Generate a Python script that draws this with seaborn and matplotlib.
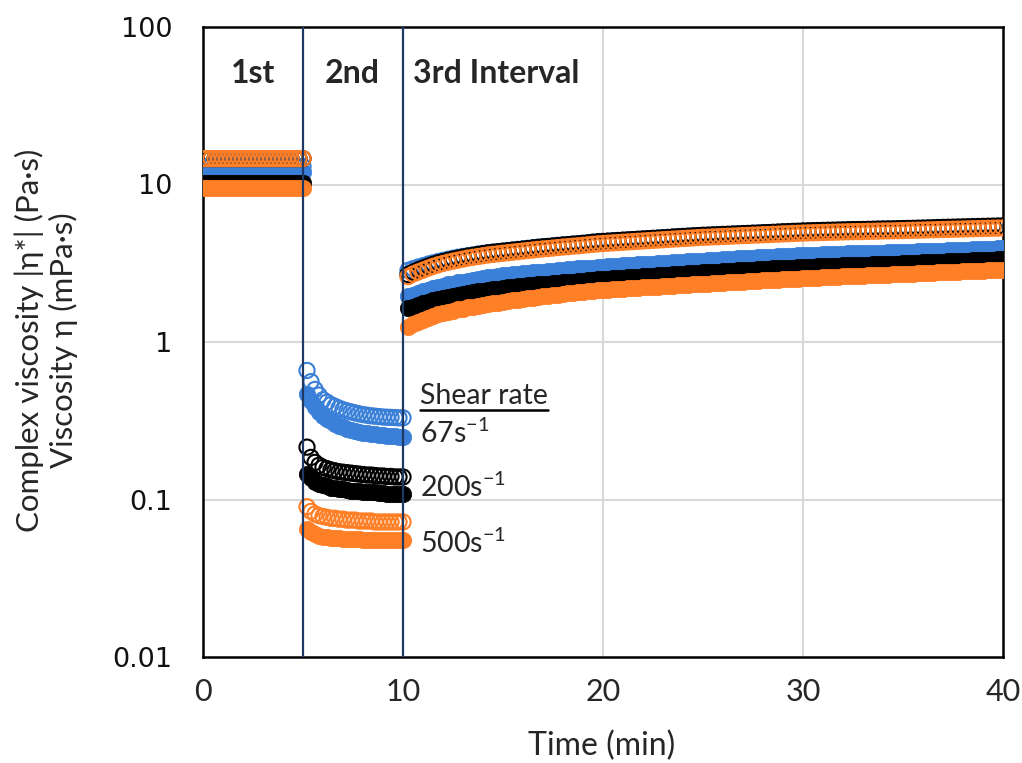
import numpy as np
import pandas as pd
import matplotlib
matplotlib.use("Agg")
import matplotlib.pyplot as plt
from matplotlib import font_manager
import seaborn as sns
from matplotlib.lines import Line2D

# ---------------- data ----------------
t1 = np.round(np.arange(0.0, 5.01, 0.2), 2)            # 1st interval (oscillation)
t2 = np.round(np.arange(5.2, 10.01, 0.2), 2)           # 2nd interval (rotation)
t3 = np.round(np.arange(10.25, 40.01, 0.25), 2)        # 3rd interval (oscillation)

shear_rates = ["67", "200", "500"]
series_colors = {"67": "#3a7fd8", "200": "#000000", "500": "#ff7f27"}

# 1st interval
blue_fill_1 = [12.0, 12.0, 12.0, 12.0, 12.0, 12.0, 12.0, 12.0, 12.0, 12.0, 12.0, 12.0, 12.0,
               12.0, 12.0, 12.0, 12.0, 12.0, 12.0, 12.0, 12.0, 12.0, 12.0, 12.0, 12.0, 12.0]
blue_open_1 = [13.0, 13.0, 13.0, 13.0, 13.0, 13.0, 13.0, 13.0, 13.0, 13.0, 13.0, 13.0, 13.0,
               13.0, 13.0, 13.0, 13.0, 13.0, 13.0, 13.0, 13.0, 13.0, 13.0, 13.0, 13.0, 13.0]
black_fill_1 = [10.2, 10.2, 10.2, 10.2, 10.2, 10.2, 10.2, 10.2, 10.2, 10.2, 10.2, 10.2, 10.2,
                10.2, 10.2, 10.2, 10.2, 10.2, 10.2, 10.2, 10.2, 10.2, 10.2, 10.2, 10.2, 10.2]
black_open_1 = [14.6, 14.6, 14.6, 14.6, 14.6, 14.6, 14.6, 14.6, 14.6, 14.6, 14.6, 14.6, 14.6,
                14.6, 14.6, 14.6, 14.6, 14.6, 14.6, 14.6, 14.6, 14.6, 14.6, 14.6, 14.6, 14.6]
orange_fill_1 = [9.5, 9.5, 9.5, 9.5, 9.5, 9.5, 9.5, 9.5, 9.5, 9.5, 9.5, 9.5, 9.5,
                 9.5, 9.5, 9.5, 9.5, 9.5, 9.5, 9.5, 9.5, 9.5, 9.5, 9.5, 9.5, 9.5]
orange_open_1 = [14.6, 14.6, 14.6, 14.6, 14.6, 14.6, 14.6, 14.6, 14.6, 14.6, 14.6, 14.6, 14.6,
                 14.6, 14.6, 14.6, 14.6, 14.6, 14.6, 14.6, 14.6, 14.6, 14.6, 14.6, 14.6, 14.6]

# 2nd interval
blue_open_2 = [0.66, 0.56, 0.50, 0.46, 0.43, 0.415, 0.40, 0.39, 0.38, 0.372, 0.365, 0.36, 0.355,
               0.35, 0.346, 0.343, 0.34, 0.338, 0.336, 0.334, 0.333, 0.332, 0.331, 0.330, 0.330]
blue_fill_2 = [0.47, 0.42, 0.385, 0.36, 0.34, 0.325, 0.313, 0.303, 0.295, 0.288, 0.282, 0.277, 0.273,
               0.269, 0.266, 0.263, 0.261, 0.259, 0.257, 0.255, 0.254, 0.253, 0.252, 0.251, 0.250]
black_open_2 = [0.215, 0.185, 0.172, 0.165, 0.160, 0.157, 0.154, 0.152, 0.150, 0.149, 0.148, 0.147, 0.146,
                0.145, 0.144, 0.143, 0.143, 0.142, 0.141, 0.141, 0.140, 0.140, 0.139, 0.139, 0.139]
black_fill_2 = [0.145, 0.136, 0.130, 0.126, 0.123, 0.121, 0.119, 0.118, 0.117, 0.116, 0.115, 0.114, 0.113,
                0.113, 0.112, 0.112, 0.111, 0.111, 0.110, 0.110, 0.109, 0.109, 0.109, 0.108, 0.108]
orange_open_2 = [0.090, 0.084, 0.081, 0.079, 0.078, 0.077, 0.076, 0.076, 0.075, 0.075, 0.074, 0.074, 0.074,
                 0.073, 0.073, 0.073, 0.073, 0.072, 0.072, 0.072, 0.072, 0.072, 0.072, 0.072, 0.072]
orange_fill_2 = [0.065, 0.062, 0.060, 0.059, 0.058, 0.058, 0.057, 0.057, 0.057, 0.056, 0.056, 0.056, 0.056,
                 0.056, 0.055, 0.055, 0.055, 0.055, 0.055, 0.055, 0.055, 0.055, 0.055, 0.055, 0.055]

# 3rd interval (one row per minute: x.25, x.5, x.75, x+1)
blue_fill_3 = [1.95, 2.00, 2.05, 2.10,  2.15, 2.20, 2.24, 2.28,  2.32, 2.35, 2.39, 2.42,
               2.45, 2.48, 2.51, 2.54,  2.57, 2.60, 2.63, 2.65,  2.67, 2.69, 2.71, 2.73,
               2.75, 2.77, 2.79, 2.80,  2.82, 2.84, 2.86, 2.87,  2.89, 2.91, 2.93, 2.94,
               2.96, 2.97, 2.99, 3.00,  3.02, 3.03, 3.05, 3.06,  3.08, 3.09, 3.11, 3.12,
               3.14, 3.15, 3.17, 3.18,  3.19, 3.20, 3.22, 3.23,  3.25, 3.26, 3.28, 3.29,
               3.31, 3.32, 3.34, 3.35,  3.36, 3.37, 3.39, 3.40,  3.42, 3.43, 3.45, 3.46,
               3.47, 3.48, 3.50, 3.51,  3.53, 3.54, 3.55, 3.56,  3.57, 3.58, 3.59, 3.60,
               3.61, 3.62, 3.63, 3.64,  3.65, 3.66, 3.665, 3.67, 3.68, 3.69, 3.695, 3.70,
               3.71, 3.72, 3.725, 3.73, 3.74, 3.75, 3.76, 3.77,  3.78, 3.79, 3.80, 3.81,
               3.82, 3.83, 3.84, 3.85,  3.86, 3.87, 3.88, 3.89,  3.90, 3.92, 3.93, 3.95]
black_fill_3 = [1.64, 1.68, 1.72, 1.76,  1.80, 1.84, 1.88, 1.91,  1.94, 1.97, 2.00, 2.03,
                2.06, 2.08, 2.10, 2.12,  2.14, 2.16, 2.18, 2.20,  2.22, 2.24, 2.26, 2.27,
                2.29, 2.30, 2.32, 2.33,  2.35, 2.36, 2.38, 2.39,  2.41, 2.42, 2.44, 2.45,
                2.47, 2.48, 2.50, 2.51,  2.53, 2.54, 2.55, 2.56,  2.58, 2.59, 2.60, 2.61,
                2.63, 2.64, 2.65, 2.66,  2.68, 2.69, 2.70, 2.71,  2.73, 2.74, 2.76, 2.77,
                2.78, 2.79, 2.80, 2.81,  2.83, 2.84, 2.85, 2.86,  2.87, 2.88, 2.90, 2.91,
                2.92, 2.93, 2.94, 2.95,  2.96, 2.97, 2.98, 2.99,  3.00, 3.01, 3.02, 3.03,
                3.04, 3.05, 3.055, 3.06, 3.07, 3.08, 3.09, 3.10,  3.105, 3.11, 3.12, 3.13,
                3.135, 3.14, 3.15, 3.16, 3.17, 3.18, 3.19, 3.20,  3.21, 3.22, 3.23, 3.24,
                3.25, 3.26, 3.27, 3.28,  3.29, 3.30, 3.31, 3.32,  3.33, 3.34, 3.35, 3.36]
orange_fill_3 = [1.25, 1.30, 1.34, 1.38,  1.42, 1.46, 1.50, 1.53,  1.56, 1.58, 1.61, 1.63,
                 1.66, 1.68, 1.70, 1.72,  1.74, 1.76, 1.78, 1.80,  1.82, 1.84, 1.86, 1.88,
                 1.90, 1.91, 1.93, 1.95,  1.97, 1.98, 2.00, 2.02,  2.04, 2.05, 2.07, 2.08,
                 2.10, 2.11, 2.13, 2.14,  2.15, 2.16, 2.17, 2.18,  2.19, 2.20, 2.21, 2.22,
                 2.23, 2.24, 2.25, 2.26,  2.27, 2.28, 2.29, 2.30,  2.31, 2.32, 2.33, 2.34,
                 2.35, 2.36, 2.37, 2.38,  2.39, 2.40, 2.41, 2.42,  2.43, 2.44, 2.45, 2.46,
                 2.47, 2.48, 2.49, 2.50,  2.51, 2.52, 2.53, 2.54,  2.55, 2.56, 2.565, 2.57,
                 2.58, 2.59, 2.60, 2.61,  2.615, 2.62, 2.63, 2.64, 2.65, 2.66, 2.665, 2.67,
                 2.68, 2.69, 2.695, 2.70, 2.71, 2.72, 2.73, 2.74,  2.75, 2.76, 2.765, 2.77,
                 2.78, 2.79, 2.80, 2.81,  2.815, 2.82, 2.83, 2.84, 2.845, 2.85, 2.86, 2.87]
orange_open_3 = [2.60, 2.70, 2.78, 2.86,  2.94, 3.02, 3.09, 3.15,  3.21, 3.26, 3.31, 3.36,
                 3.41, 3.45, 3.49, 3.53,  3.57, 3.60, 3.63, 3.66,  3.69, 3.72, 3.75, 3.78,
                 3.81, 3.84, 3.87, 3.90,  3.92, 3.95, 3.98, 4.01,  4.03, 4.06, 4.08, 4.11,
                 4.14, 4.17, 4.20, 4.22,  4.24, 4.26, 4.28, 4.30,  4.32, 4.34, 4.36, 4.38,
                 4.40, 4.42, 4.44, 4.46,  4.48, 4.50, 4.52, 4.54,  4.56, 4.58, 4.60, 4.62,
                 4.63, 4.65, 4.66, 4.68,  4.69, 4.71, 4.72, 4.74,  4.75, 4.77, 4.78, 4.80,
                 4.81, 4.83, 4.84, 4.86,  4.87, 4.89, 4.90, 4.92,  4.93, 4.94, 4.95, 4.96,
                 4.97, 4.98, 4.99, 5.00,  5.01, 5.02, 5.025, 5.03, 5.04, 5.05, 5.06, 5.07,
                 5.075, 5.08, 5.09, 5.10, 5.11, 5.12, 5.13, 5.14,  5.15, 5.16, 5.17, 5.18,
                 5.19, 5.20, 5.21, 5.22,  5.23, 5.24, 5.25, 5.26,  5.27, 5.28, 5.29, 5.30]
black_open_3 = [2.68, 2.78, 2.87, 2.95,  3.03, 3.11, 3.18, 3.24,  3.30, 3.36, 3.41, 3.46,
                3.51, 3.55, 3.60, 3.64,  3.68, 3.71, 3.74, 3.77,  3.80, 3.83, 3.86, 3.89,
                3.92, 3.96, 3.99, 4.02,  4.04, 4.07, 4.10, 4.13,  4.15, 4.18, 4.20, 4.23,
                4.26, 4.30, 4.33, 4.35,  4.37, 4.39, 4.41, 4.43,  4.45, 4.47, 4.49, 4.51,
                4.53, 4.55, 4.57, 4.59,  4.61, 4.64, 4.66, 4.68,  4.70, 4.72, 4.74, 4.76,
                4.77, 4.79, 4.80, 4.82,  4.83, 4.85, 4.86, 4.88,  4.89, 4.91, 4.92, 4.94,
                4.95, 4.97, 4.99, 5.01,  5.02, 5.04, 5.05, 5.07,  5.08, 5.09, 5.10, 5.11,
                5.12, 5.13, 5.14, 5.15,  5.16, 5.17, 5.175, 5.18, 5.19, 5.20, 5.21, 5.22,
                5.225, 5.23, 5.24, 5.25, 5.26, 5.27, 5.28, 5.29,  5.30, 5.31, 5.33, 5.34,
                5.35, 5.36, 5.37, 5.38,  5.39, 5.40, 5.41, 5.42,  5.43, 5.44, 5.45, 5.46]
blue_open_3 = [2.85, 2.92, 2.99, 3.05,  3.12, 3.18, 3.24, 3.30,  3.35, 3.40, 3.45, 3.49,
               3.53, 3.57, 3.61, 3.65,  3.69, 3.72, 3.75, 3.78,  3.81, 3.84, 3.87, 3.90,
               3.93, 3.96, 3.99, 4.02,  4.04, 4.07, 4.10, 4.13,  4.15, 4.18, 4.20, 4.23,
               4.26, 4.29, 4.32, 4.34,  4.36, 4.38, 4.40, 4.42,  4.44, 4.46, 4.48, 4.50,
               4.52, 4.54, 4.56, 4.58,  4.60, 4.62, 4.64, 4.66,  4.68, 4.70, 4.72, 4.74,
               4.75, 4.77, 4.78, 4.80,  4.81, 4.83, 4.84, 4.86,  4.87, 4.89, 4.90, 4.92,
               4.93, 4.95, 4.96, 4.98,  4.99, 5.01, 5.02, 5.04,  5.05, 5.06, 5.07, 5.08,
               5.09, 5.10, 5.11, 5.12,  5.13, 5.14, 5.145, 5.15, 5.16, 5.17, 5.18, 5.19,
               5.195, 5.20, 5.21, 5.22, 5.23, 5.24, 5.25, 5.26,  5.27, 5.28, 5.29, 5.30,
               5.31, 5.32, 5.33, 5.34,  5.35, 5.36, 5.37, 5.38,  5.39, 5.40, 5.41, 5.42]

interval_labels = ["1st", "2nd", "3rd Interval"]
rate_labels = ["67s$^{-1}$", "200s$^{-1}$", "500s$^{-1}$"]
xtick_vals = [0, 10, 20, 30, 40]
ytick_vals = [0.01, 0.1, 1, 10, 100]
ytick_labels = ["0.01", "0.1", "1", "10", "100"]

series = {
    ("67", "fill"): (blue_fill_1, blue_fill_2, blue_fill_3),
    ("67", "open"): (blue_open_1, blue_open_2, blue_open_3),
    ("200", "fill"): (black_fill_1, black_fill_2, black_fill_3),
    ("200", "open"): (black_open_1, black_open_2, black_open_3),
    ("500", "fill"): (orange_fill_1, orange_fill_2, orange_fill_3),
    ("500", "open"): (orange_open_1, orange_open_2, orange_open_3),
}

rows = []
all_t = np.concatenate([t1, t2, t3])
for (rate, kind), (v1, v2, v3) in series.items():
    vals = list(v1) + list(v2) + list(v3)
    for tt, vv in zip(all_t, vals):
        rows.append({"time": tt, "visc": vv, "rate": rate, "kind": kind})
df = pd.DataFrame(rows)

# ---------------- style ----------------
sns.set_theme(style="white")
plt.rcParams["font.family"] = ["Lato", "DejaVu Sans"]
plt.rcParams["mathtext.fontset"] = "custom"
plt.rcParams["mathtext.rm"] = "Lato"
plt.rcParams["mathtext.default"] = "rm"

installed = {f.name for f in font_manager.fontManager.ttflist}
narrow = "Liberation Sans Narrow" if "Liberation Sans Narrow" in installed else "Lato"

fig = plt.figure(figsize=(10.22, 7.63), dpi=100)
ax = fig.add_axes([203 / 1022, 1 - 657 / 763, 800 / 1022, 630 / 763])

for rate in shear_rates:
    c = series_colors[rate]
    for kind in ["fill", "open"]:
        sub = df[(df["rate"] == rate) & (df["kind"] == kind)]
        if kind == "fill":
            sns.scatterplot(data=sub, x="time", y="visc", ax=ax, color=c, s=140,
                            marker="o", edgecolor=c, linewidth=0.5, legend=False, zorder=3)
        else:
            sns.scatterplot(data=sub, x="time", y="visc", ax=ax, color=c, s=120,
                            marker="o", facecolor="none", edgecolor=c, linewidth=1.5,
                            legend=False, zorder=3)

ax.set_yscale("log")
ax.set_xlim(0, 40)
ax.set_ylim(0.01, 100)
ax.set_xticks(xtick_vals)
ax.set_xticklabels([str(v) for v in xtick_vals])
ax.set_yticks(ytick_vals)
ax.set_yticklabels(ytick_labels)
ax.minorticks_off()
ax.tick_params(axis="both", length=0)
ax.tick_params(axis="x", pad=15)
ax.tick_params(axis="y", pad=22)
for lab in ax.get_xticklabels():
    lab.set_family([narrow, "DejaVu Sans"])
    lab.set_fontsize(22)
for lab in ax.get_yticklabels():
    lab.set_family("DejaVu Sans")
    lab.set_fontsize(19.5)
    lab.set_color("#111111")

for y in ytick_vals[1:-1]:
    ax.axhline(y, color="#d9d9d9", lw=1.5, zorder=0)
for x in [20, 30]:
    ax.axvline(x, color="#d9d9d9", lw=1.5, zorder=0)
for x in [5, 10]:
    ax.axvline(x, color="#1f3864", lw=1.6, zorder=4)

for sp in ax.spines.values():
    sp.set_visible(True)
    sp.set_color("black")
    sp.set_linewidth(1.8)

ax.set_xlabel("")
ax.set_ylabel("")

# interval labels
ax.text(2.5, 51, interval_labels[0], ha="center", va="center", fontsize=23, fontweight="bold")
ax.text(7.45, 51, interval_labels[1], ha="center", va="center", fontsize=23, fontweight="bold")
ax.text(10.5, 51, interval_labels[2], ha="left", va="center", fontsize=23, fontweight="bold")

# shear rate annotations
sr = ax.text(10.85, 0.454, "Shear rate", ha="left", va="center", fontsize=20.5)
ax.text(10.85, 0.262, rate_labels[0], ha="left", va="center", fontsize=20.5)
ax.text(10.85, 0.119, rate_labels[1], ha="left", va="center", fontsize=20.5)
ax.text(10.85, 0.0525, rate_labels[2], ha="left", va="center", fontsize=20.5)

fig.text(46 / 1022, 1 - 340 / 763, "Complex viscosity |η*| (Pa·s)\nViscosity η (mPa·s)",
         rotation=90, ha="center", va="center", fontsize=22.5, linespacing=1.2,
         multialignment="center")
fig.text(602 / 1022, 1 - 746 / 763, "Time (min)", ha="center", va="center", fontsize=23)

fig.canvas.draw()
bb = sr.get_window_extent()
fig.add_artist(Line2D([bb.x0 / fig.bbox.width, bb.x1 / fig.bbox.width],
                      [(bb.y0 - 1) / fig.bbox.height] * 2,
                      transform=fig.transFigure, color="black", lw=1.8))

fig.savefig("out.png", dpi=100)
